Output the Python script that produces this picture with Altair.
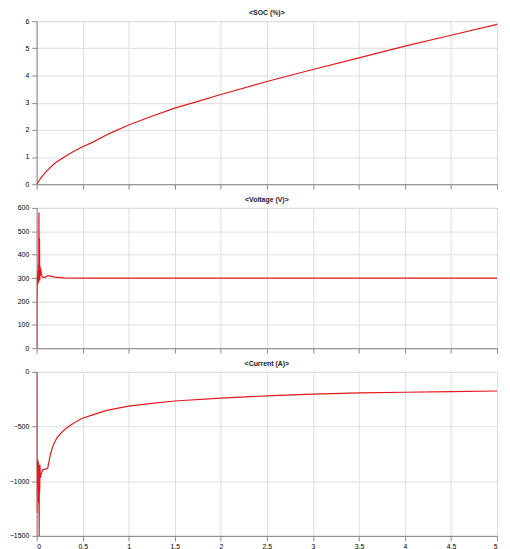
import altair as alt
import pandas as pd

# ---- data ----
soc_t = [0, 0.02, 0.05, 0.1, 0.15, 0.2, 0.3, 0.4, 0.5, 0.6, 0.8, 1.0, 1.25, 1.5, 1.75,
         2.0, 2.5, 3.0, 3.5, 4.0, 4.5, 5.0]
soc_v = [0, 0.1, 0.25, 0.45, 0.62, 0.78, 1.0, 1.2, 1.38, 1.53, 1.88, 2.18, 2.5, 2.8, 3.05,
         3.3, 3.78, 4.22, 4.65, 5.08, 5.48, 5.88]

volt_t = [0, 0.003, 0.006, 0.01, 0.013, 0.016, 0.019, 0.022, 0.025, 0.028, 0.031, 0.034,
          0.037, 0.04, 0.045, 0.05, 0.06, 0.08, 0.1, 0.13, 0.16, 0.2, 0.3, 0.5, 1.0, 5.0]
volt_v = [0, 280, 310, 270, 330, 290, 360, 280, 580, 300, 470, 290,
          350, 310, 340, 320, 305, 302, 306, 310, 307, 304, 301, 300, 300, 300]

cur_t = [0, 0.003, 0.006, 0.009, 0.012, 0.015, 0.018, 0.021, 0.024, 0.027, 0.03, 0.033,
         0.036, 0.04, 0.05, 0.065, 0.08, 0.1, 0.12, 0.15, 0.18, 0.22, 0.27, 0.32, 0.4,
         0.49, 0.6, 0.76, 1.0, 1.25, 1.5, 2.0, 2.5, 3.0, 3.5, 4.0, 4.5, 5.0]
cur_v = [0, -1290, -800, -930, -810, -900, -820, -1200, -850, -1500, -900, -1100,
         -850, -970, -930, -897, -890, -890, -880, -751, -670, -603, -555, -515, -470,
         -426, -395, -352, -313, -288, -266, -240, -219, -204, -192, -186, -180, -175]

titles = ["<SOC (%)>", "<Voltage (V)>", "<Current (A)>"]
x_ticks = [0, 0.5, 1, 1.5, 2, 2.5, 3, 3.5, 4, 4.5, 5]
soc_ticks = [0, 1, 2, 3, 4, 5, 6]
volt_ticks = [0, 100, 200, 300, 400, 500, 600]
cur_ticks = [0, -500, -1000, -1500]

FONT = "Liberation Sans"
RED = "#e0191c"
W = 466


def panel(t, v, title, yticks, ydom, h, show_x):
    df = pd.DataFrame({"t": t, "v": v})
    if show_x:
        xaxis = alt.Axis(values=x_ticks, format="~g", title=None, labels=True,
                         labelFontSize=7, labelPadding=2)
    else:
        xaxis = alt.Axis(values=x_ticks, title=None, labels=False, labelPadding=0,
                         maxExtent=0, minExtent=0)
    return (
        alt.Chart(df)
        .mark_line(color=RED, strokeWidth=1.2, clip=True)
        .encode(
            x=alt.X("t:Q", scale=alt.Scale(domain=[0, 5], nice=False), axis=xaxis),
            y=alt.Y("v:Q", scale=alt.Scale(domain=ydom, nice=False),
                    axis=alt.Axis(values=yticks, format="d", title=None, labelFontSize=7,
                                  labelPadding=3, minExtent=22, maxExtent=22)),
        )
        .properties(
            width=W,
            height=h,
            title=alt.TitleParams(title, fontSize=7, fontWeight="bold", offset=1,
                                  lineHeight=7, color="#222222", font=FONT),
        )
    )


p1 = panel(soc_t, soc_v, titles[0], soc_ticks, [0, 6], 165, False)
p2 = panel(volt_t, volt_v, titles[1], volt_ticks, [0, 600], 142, False)
p3 = panel(cur_t, cur_v, titles[2], cur_ticks, [-1500, 0], 166, True)

chart = (
    alt.vconcat(p1, p2, p3, spacing=5)
    .properties(padding={"left": 0, "right": 4, "top": -3, "bottom": 0})
    .configure_view(stroke="#555555", strokeWidth=1.2)
    .configure_axis(
        grid=True,
        gridColor="#d6d6d6",
        gridWidth=0.8,
        domain=False,
        ticks=False,
        labelColor="#333333",
        labelFont=FONT,
    )
    .configure(background="white")
)

chart.save("out.html", embed_options={"renderer": "svg", "actions": False})
